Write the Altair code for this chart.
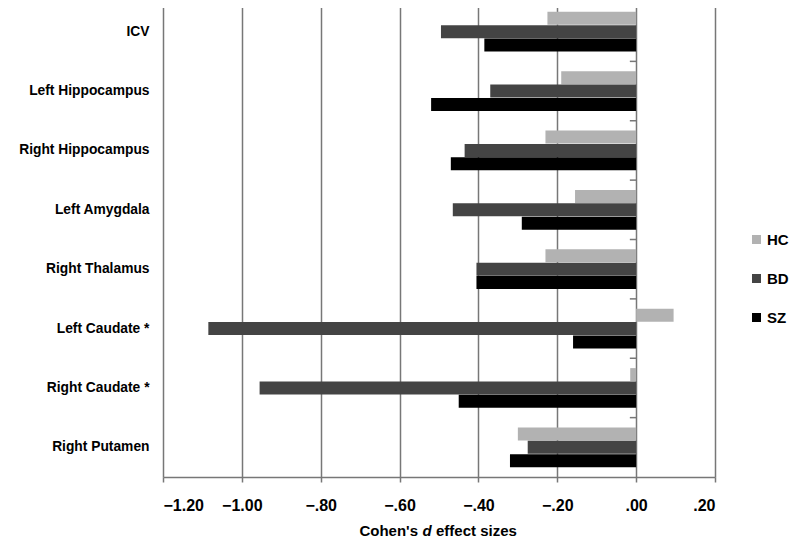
import altair as alt
import pandas as pd

regions = ["ICV", "Left Hippocampus", "Right Hippocampus", "Left Amygdala",
           "Right Thalamus", "Left Caudate *", "Right Caudate *", "Right Putamen"]
groups = ["HC", "BD", "SZ"]
hc = [-0.225, -0.19, -0.23, -0.155, -0.23, 0.095, -0.015, -0.30]
bd = [-0.495, -0.37, -0.435, -0.465, -0.405, -1.085, -0.955, -0.275]
sz = [-0.385, -0.52, -0.47, -0.29, -0.405, -0.16, -0.45, -0.32]
x_ticks = [-1.2, -1.0, -0.8, -0.6, -0.4, -0.2, 0.0, 0.2]
colors = ["#b2b2b2", "#444444", "#000000"]

rows = []
for i, r in enumerate(regions):
    for g, vals in zip(groups, [hc, bd, sz]):
        rows.append({"region": r, "group": g, "d": vals[i]})
df = pd.DataFrame(rows)
reg_df = pd.DataFrame({"region": regions})

FONT = "'Liberation Sans', Arial, sans-serif"
GRID = "#777777"
W, H = 552, 475

xscale = alt.Scale(domain=[-1.2, 0.2], nice=False, zero=False)
yscale = alt.Scale(paddingInner=0, paddingOuter=0)

x_axis = alt.Axis(values=x_ticks, grid=True, gridColor=GRID, gridWidth=1.5,
                  domainColor=GRID, domainWidth=1.5, tickColor=GRID, tickWidth=1.5,
                  tickSize=5, labelPadding=15, labelFont=FONT, labelFontSize=16,
                  labelFontWeight="bold", labelColor="#000000", title=None,
                  labelExpr="replace(format(datum.value, '.2f'), '0.', '.')")

y_axis = alt.Axis(title=None, ticks=False, tickSize=0, domain=False, grid=False,
                  labelPadding=14, labelFont=FONT, labelFontSize=13.8,
                  labelFontWeight="bold", labelColor="#000000", labelLimit=300)

bars = alt.Chart(df).mark_bar(size=13).encode(
    x=alt.X("d:Q", scale=xscale, axis=x_axis),
    x2=alt.datum(0),
    y=alt.Y("region:N", sort=regions, scale=yscale, axis=y_axis),
    yOffset=alt.YOffset("group:N", sort=groups,
                        scale=alt.Scale(paddingInner=0, paddingOuter=0.73)),
    color=alt.Color("group:N", sort=groups,
                    scale=alt.Scale(domain=groups, range=colors),
                    legend=alt.Legend(title=None, orient="none", legendX=586, legendY=230,
                                      symbolType="square", symbolSize=81,
                                      symbolStrokeWidth=0, labelFont=FONT,
                                      labelFontSize=15, labelFontWeight="bold",
                                      labelColor="#000000", rowPadding=23,
                                      labelOffset=3, padding=0)),
)

# vertical zero line
zero_line = alt.Chart(reg_df).mark_rule(color=GRID, strokeWidth=1.5).encode(
    x=alt.datum(0),
    y=alt.Y("region:N", sort=regions, scale=yscale, axis=y_axis),
)

# small category separator ticks on the left of the zero line
sep_ticks = alt.Chart(reg_df).mark_rule(color=GRID, strokeWidth=1.5).encode(
    x=alt.datum(-0.016),
    x2=alt.datum(0),
    y=alt.Y("region:N", sort=regions, scale=yscale, axis=y_axis, bandPosition=0),
)

title_df = pd.DataFrame({"a": ["Cohen's"], "b": ["d"], "c": ["effect sizes"]})
t_base = alt.Chart(title_df)
tx, ty = 264, 529
t1 = t_base.mark_text(font=FONT, fontSize=15, fontWeight="bold", align="right",
                      baseline="middle", dx=-9, color="#000000").encode(
    x=alt.value(tx), y=alt.value(ty), text="a:N")
t2 = t_base.mark_text(font=FONT, fontSize=15, fontWeight="bold", fontStyle="italic",
                      align="center", baseline="middle", color="#000000").encode(
    x=alt.value(tx), y=alt.value(ty), text="b:N")
t3 = t_base.mark_text(font=FONT, fontSize=15, fontWeight="bold", align="left",
                      baseline="middle", dx=9, color="#000000").encode(
    x=alt.value(tx), y=alt.value(ty), text="c:N")

chart = alt.layer(bars, zero_line, sep_ticks, t1, t2, t3).properties(
    width=W, height=H,
    autosize=alt.AutoSizeParams(type="none"),
    padding={"left": 155, "top": -6, "right": 77, "bottom": 64},
    background="white",
).configure_view(stroke=None)

chart.save("out.html", embed_options={"renderer": "svg", "actions": False})
